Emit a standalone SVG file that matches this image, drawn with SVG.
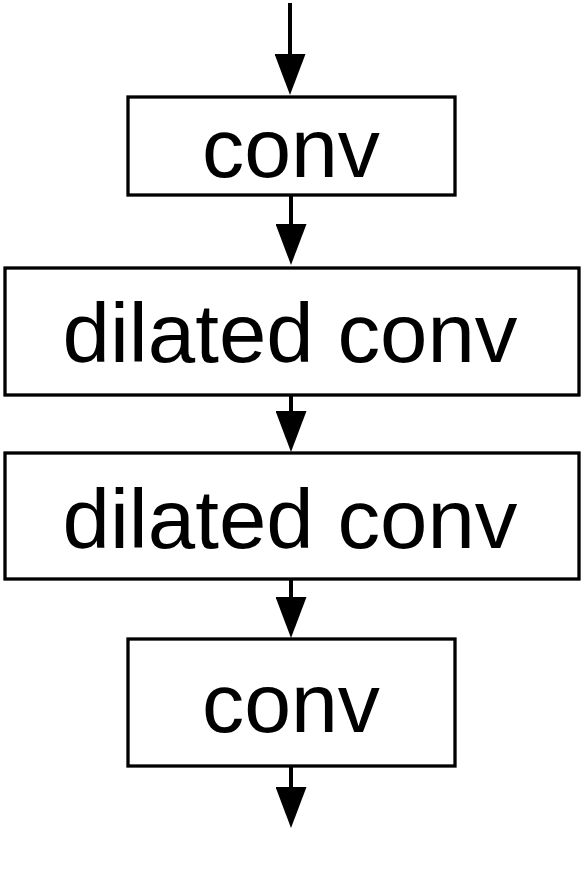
<svg xmlns="http://www.w3.org/2000/svg" width="583" height="887" viewBox="0 0 583 887">
  <style>
    .box { fill: #ffffff; stroke: #000000; stroke-width: 3.3; }
    .lbl { font-family: "Liberation Sans", Arial, Helvetica, sans-serif; font-size: 84px; fill: #000000; text-anchor: middle; }
    .edge { stroke: #000000; stroke-width: 4; fill: none; }
  </style>
  <defs>
    <marker id="arrow" viewBox="0 0 41 31" refX="0" refY="15.5" markerWidth="41" markerHeight="31" markerUnits="userSpaceOnUse" orient="auto">
      <path d="M0,0 L41,15.5 L0,31 Z" fill="#000000"/>
    </marker>
  </defs>
  <rect width="583" height="887" fill="#ffffff"/>
  <g id="connectors">
    <line class="edge" x1="290" y1="3" x2="290" y2="54" marker-end="url(#arrow)"/>
    <line class="edge" x1="291" y1="195" x2="291" y2="224" marker-end="url(#arrow)"/>
    <line class="edge" x1="291" y1="395" x2="291" y2="411" marker-end="url(#arrow)"/>
    <line class="edge" x1="291" y1="579" x2="291" y2="597" marker-end="url(#arrow)"/>
    <line class="edge" x1="291" y1="766" x2="291" y2="787" marker-end="url(#arrow)"/>
  </g>
  <g id="node-conv1">
    <rect class="box" x="128" y="97" width="327" height="98"/>
    <text class="lbl" x="291" y="177" textLength="178" lengthAdjust="spacingAndGlyphs">conv</text>
  </g>
  <g id="node-dilated1">
    <rect class="box" x="5" y="268" width="574" height="127"/>
    <text class="lbl" x="290" y="362" textLength="455" lengthAdjust="spacingAndGlyphs">dilated conv</text>
  </g>
  <g id="node-dilated2">
    <rect class="box" x="5" y="453" width="574" height="126"/>
    <text class="lbl" x="290" y="548" textLength="455" lengthAdjust="spacingAndGlyphs">dilated conv</text>
  </g>
  <g id="node-conv2">
    <rect class="box" x="128" y="639" width="327" height="127"/>
    <text class="lbl" x="291" y="732" textLength="178" lengthAdjust="spacingAndGlyphs">conv</text>
  </g>
</svg>
